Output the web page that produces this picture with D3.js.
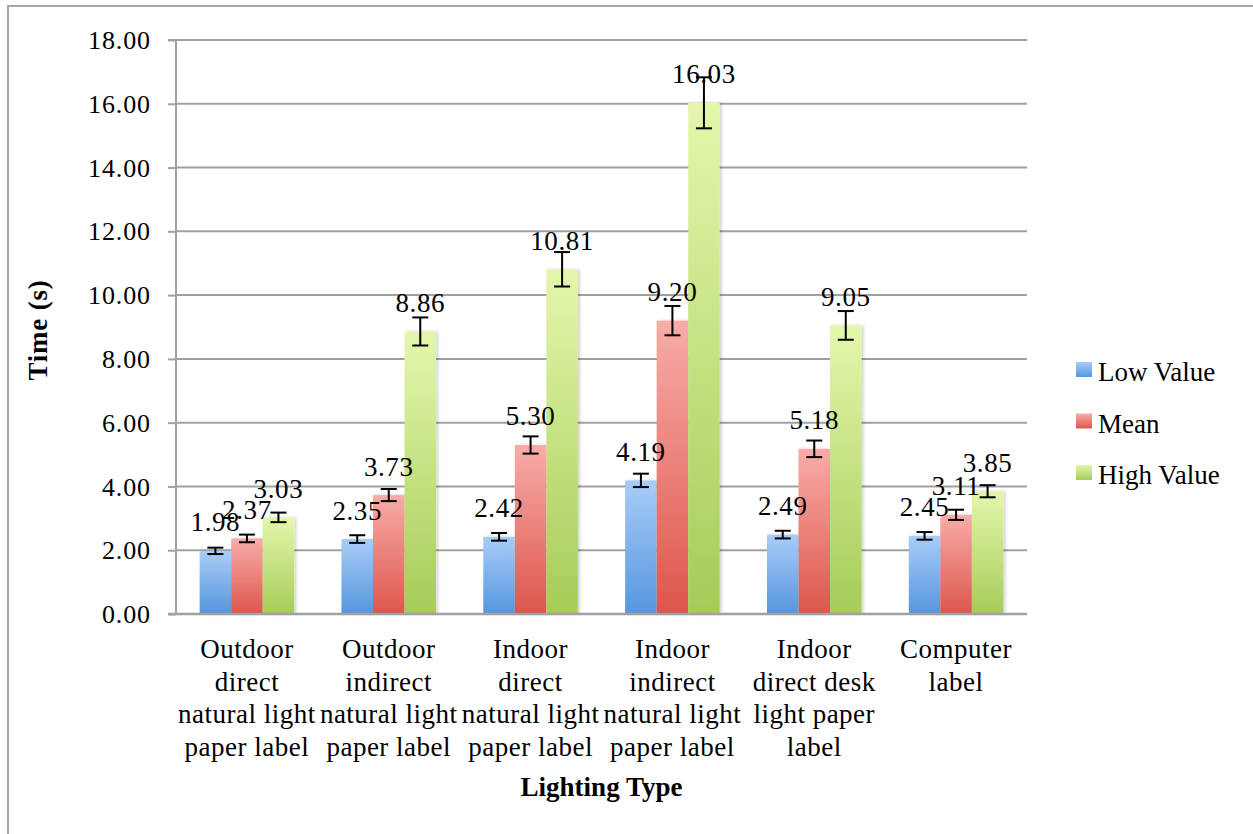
<!DOCTYPE html>
<html>
<head>
<meta charset="utf-8">
<script src="https://cdn.jsdelivr.net/npm/d3@7"></script>
<style>
  html, body { margin: 0; padding: 0; background: #fff; }
  svg { display: block; }
  text { font-family: "Liberation Serif", "Times New Roman", serif; fill: #000; }
</style>
</head>
<body>
<script>
// ---- Data ----
const categories = [
  ["Outdoor", "direct", "natural light", "paper label"],
  ["Outdoor", "indirect", "natural light", "paper label"],
  ["Indoor", "direct", "natural light", "paper label"],
  ["Indoor", "indirect", "natural light", "paper label"],
  ["Indoor", "direct desk", "light paper", "label"],
  ["Computer", "label"]
];
const seriesNames = ["Low Value", "Mean", "High Value"];
const lowValues  = [1.98, 2.35, 2.42, 4.19, 2.49, 2.45];
const meanValues = [2.37, 3.73, 5.30, 9.20, 5.18, 3.11];
const highValues = [3.03, 8.86, 10.81, 16.03, 9.05, 3.85];
const lowErrors  = [0.10, 0.12, 0.12, 0.21, 0.12, 0.12];
const meanErrors = [0.12, 0.19, 0.27, 0.46, 0.26, 0.16];
const highErrors = [0.15, 0.44, 0.54, 0.80, 0.45, 0.19];
const yTicks = [0, 2, 4, 6, 8, 10, 12, 14, 16, 18];
const yTitle = "Time (s)";
const xTitle = "Lighting Type";

const seriesValues = [lowValues, meanValues, highValues];
const seriesErrors = [lowErrors, meanErrors, highErrors];
const gradStops = [
  ["#a9ccf7", "#5596dd"],
  ["#f8aca8", "#dd564c"],
  ["#e4f7ac", "#a6cc58"]
];

// ---- Layout ----
const W = 1253, H = 834;
const plot = { left: 176, right: 1027, top: 40, bottom: 614 };
const FONT = 27;

const svg = d3.select("body").append("svg").attr("width", W).attr("height", H);
const defs = svg.append("defs");
gradStops.forEach((g, i) => {
  const lg = defs.append("linearGradient").attr("id", "g" + i)
    .attr("x1", 0).attr("y1", 0).attr("x2", 0).attr("y2", 1);
  lg.append("stop").attr("offset", "0%").attr("stop-color", g[0]);
  lg.append("stop").attr("offset", "100%").attr("stop-color", g[1]);
});
const sh = defs.append("filter").attr("id", "shadow").attr("x", "-20%").attr("y", "-5%").attr("width", "150%").attr("height", "110%");
sh.append("feDropShadow").attr("dx", 2).attr("dy", 0).attr("stdDeviation", 1.5).attr("flood-color", "#000").attr("flood-opacity", 0.18);

// Border
svg.append("rect").attr("x", 8).attr("y", 6).attr("width", W + 10).attr("height", H + 10)
  .attr("fill", "none").attr("stroke", "#a6a6a6").attr("stroke-width", 2);

const y = d3.scaleLinear().domain([0, 18]).range([plot.bottom, plot.top]);
const x0 = d3.scaleBand().domain(d3.range(categories.length)).range([plot.left, plot.right]).paddingInner(0).paddingOuter(0);
const x1 = d3.scaleBand().domain(d3.range(3)).range([0, x0.bandwidth()]).paddingOuter(0.75).paddingInner(0);

// Gridlines
svg.append("g").selectAll("line").data(yTicks.slice(1)).join("line")
  .attr("x1", plot.left).attr("x2", plot.right)
  .attr("y1", d => y(d)).attr("y2", d => y(d))
  .attr("stroke", "#a0a0a0").attr("stroke-width", 2);

// Y axis
const yAxis = svg.append("g").attr("transform", `translate(${plot.left},0)`)
  .call(d3.axisLeft(y).tickValues(yTicks).tickSize(8).tickPadding(17).tickFormat(d3.format(".2f")));
yAxis.select(".domain").attr("stroke", "#a0a0a0").attr("stroke-width", 2).attr("d", `M-8,${plot.top}H0V${plot.bottom}`);
yAxis.selectAll(".tick line").attr("stroke", "#a0a0a0").attr("stroke-width", 2);
yAxis.selectAll(".tick text").attr("font-size", 26).attr("font-family", "Liberation Serif").attr("fill", "#000")
  .attr("letter-spacing", "0.9px").attr("dy", "0.33em");

// Bars
const groups = svg.append("g").selectAll("g").data(categories).join("g")
  .attr("transform", (d, i) => `translate(${x0(i)},0)`);
seriesValues.forEach((vals, s) => {
  groups.append("rect")
    .attr("x", x1(s)).attr("width", x1.bandwidth())
    .attr("y", (d, i) => y(vals[i]))
    .attr("height", (d, i) => y(0) - y(vals[i]))
    .attr("fill", `url(#g${s})`)
    .attr("filter", "url(#shadow)");
});

// X axis baseline
svg.append("line").attr("x1", plot.left - 8).attr("x2", plot.right)
  .attr("y1", plot.bottom).attr("y2", plot.bottom)
  .attr("stroke", "#a0a0a0").attr("stroke-width", 2.5);

// Data labels
seriesValues.forEach((vals, s) => {
  groups.append("text")
    .attr("x", x1(s) + x1.bandwidth() / 2)
    .attr("y", (d, i) => y(vals[i]) - 19.5)
    .attr("text-anchor", "middle").attr("font-size", FONT).attr("letter-spacing", "0.6px")
    .text((d, i) => vals[i].toFixed(2));
});

// Error bars
seriesValues.forEach((vals, s) => {
  const errs = seriesErrors[s];
  const cx = x1(s) + x1.bandwidth() / 2;
  const eb = groups.append("g").attr("stroke", "#000").attr("stroke-width", 2);
  eb.append("line").attr("x1", cx).attr("x2", cx)
    .attr("y1", (d, i) => y(vals[i] + errs[i])).attr("y2", (d, i) => y(vals[i] - errs[i]));
  eb.append("line").attr("x1", cx - 8).attr("x2", cx + 8)
    .attr("y1", (d, i) => y(vals[i] + errs[i])).attr("y2", (d, i) => y(vals[i] + errs[i]));
  eb.append("line").attr("x1", cx - 8).attr("x2", cx + 8)
    .attr("y1", (d, i) => y(vals[i] - errs[i])).attr("y2", (d, i) => y(vals[i] - errs[i]));
});

// Category labels
groups.append("text")
  .attr("x", x0.bandwidth() / 2)
  .attr("text-anchor", "middle").attr("font-size", FONT).attr("letter-spacing", "0.5px")
  .selectAll("tspan").data(d => d).join("tspan")
  .attr("x", x0.bandwidth() / 2)
  .attr("y", (d, j) => 658 + j * 32.5)
  .text(d => d);

// Axis titles
svg.append("text").attr("x", (plot.left + plot.right) / 2).attr("y", 796)
  .attr("text-anchor", "middle").attr("font-size", FONT).attr("font-weight", "bold").text(xTitle);
svg.append("text").attr("transform", `translate(47,${(plot.top + plot.bottom) / 2 + 3}) rotate(-90)`)
  .attr("text-anchor", "middle").attr("font-size", FONT).attr("font-weight", "bold").attr("letter-spacing", "0.8px").text(yTitle);

// Legend
const legend = svg.append("g").attr("transform", "translate(1076,362)");
seriesNames.forEach((n, i) => {
  const g = legend.append("g").attr("transform", `translate(0,${i * 51.5})`);
  g.append("rect").attr("width", 16).attr("height", 15).attr("fill", `url(#g${i})`);
  g.append("text").attr("x", 22).attr("y", 19).attr("font-size", FONT).text(n);
});
</script>
</body>
</html>
